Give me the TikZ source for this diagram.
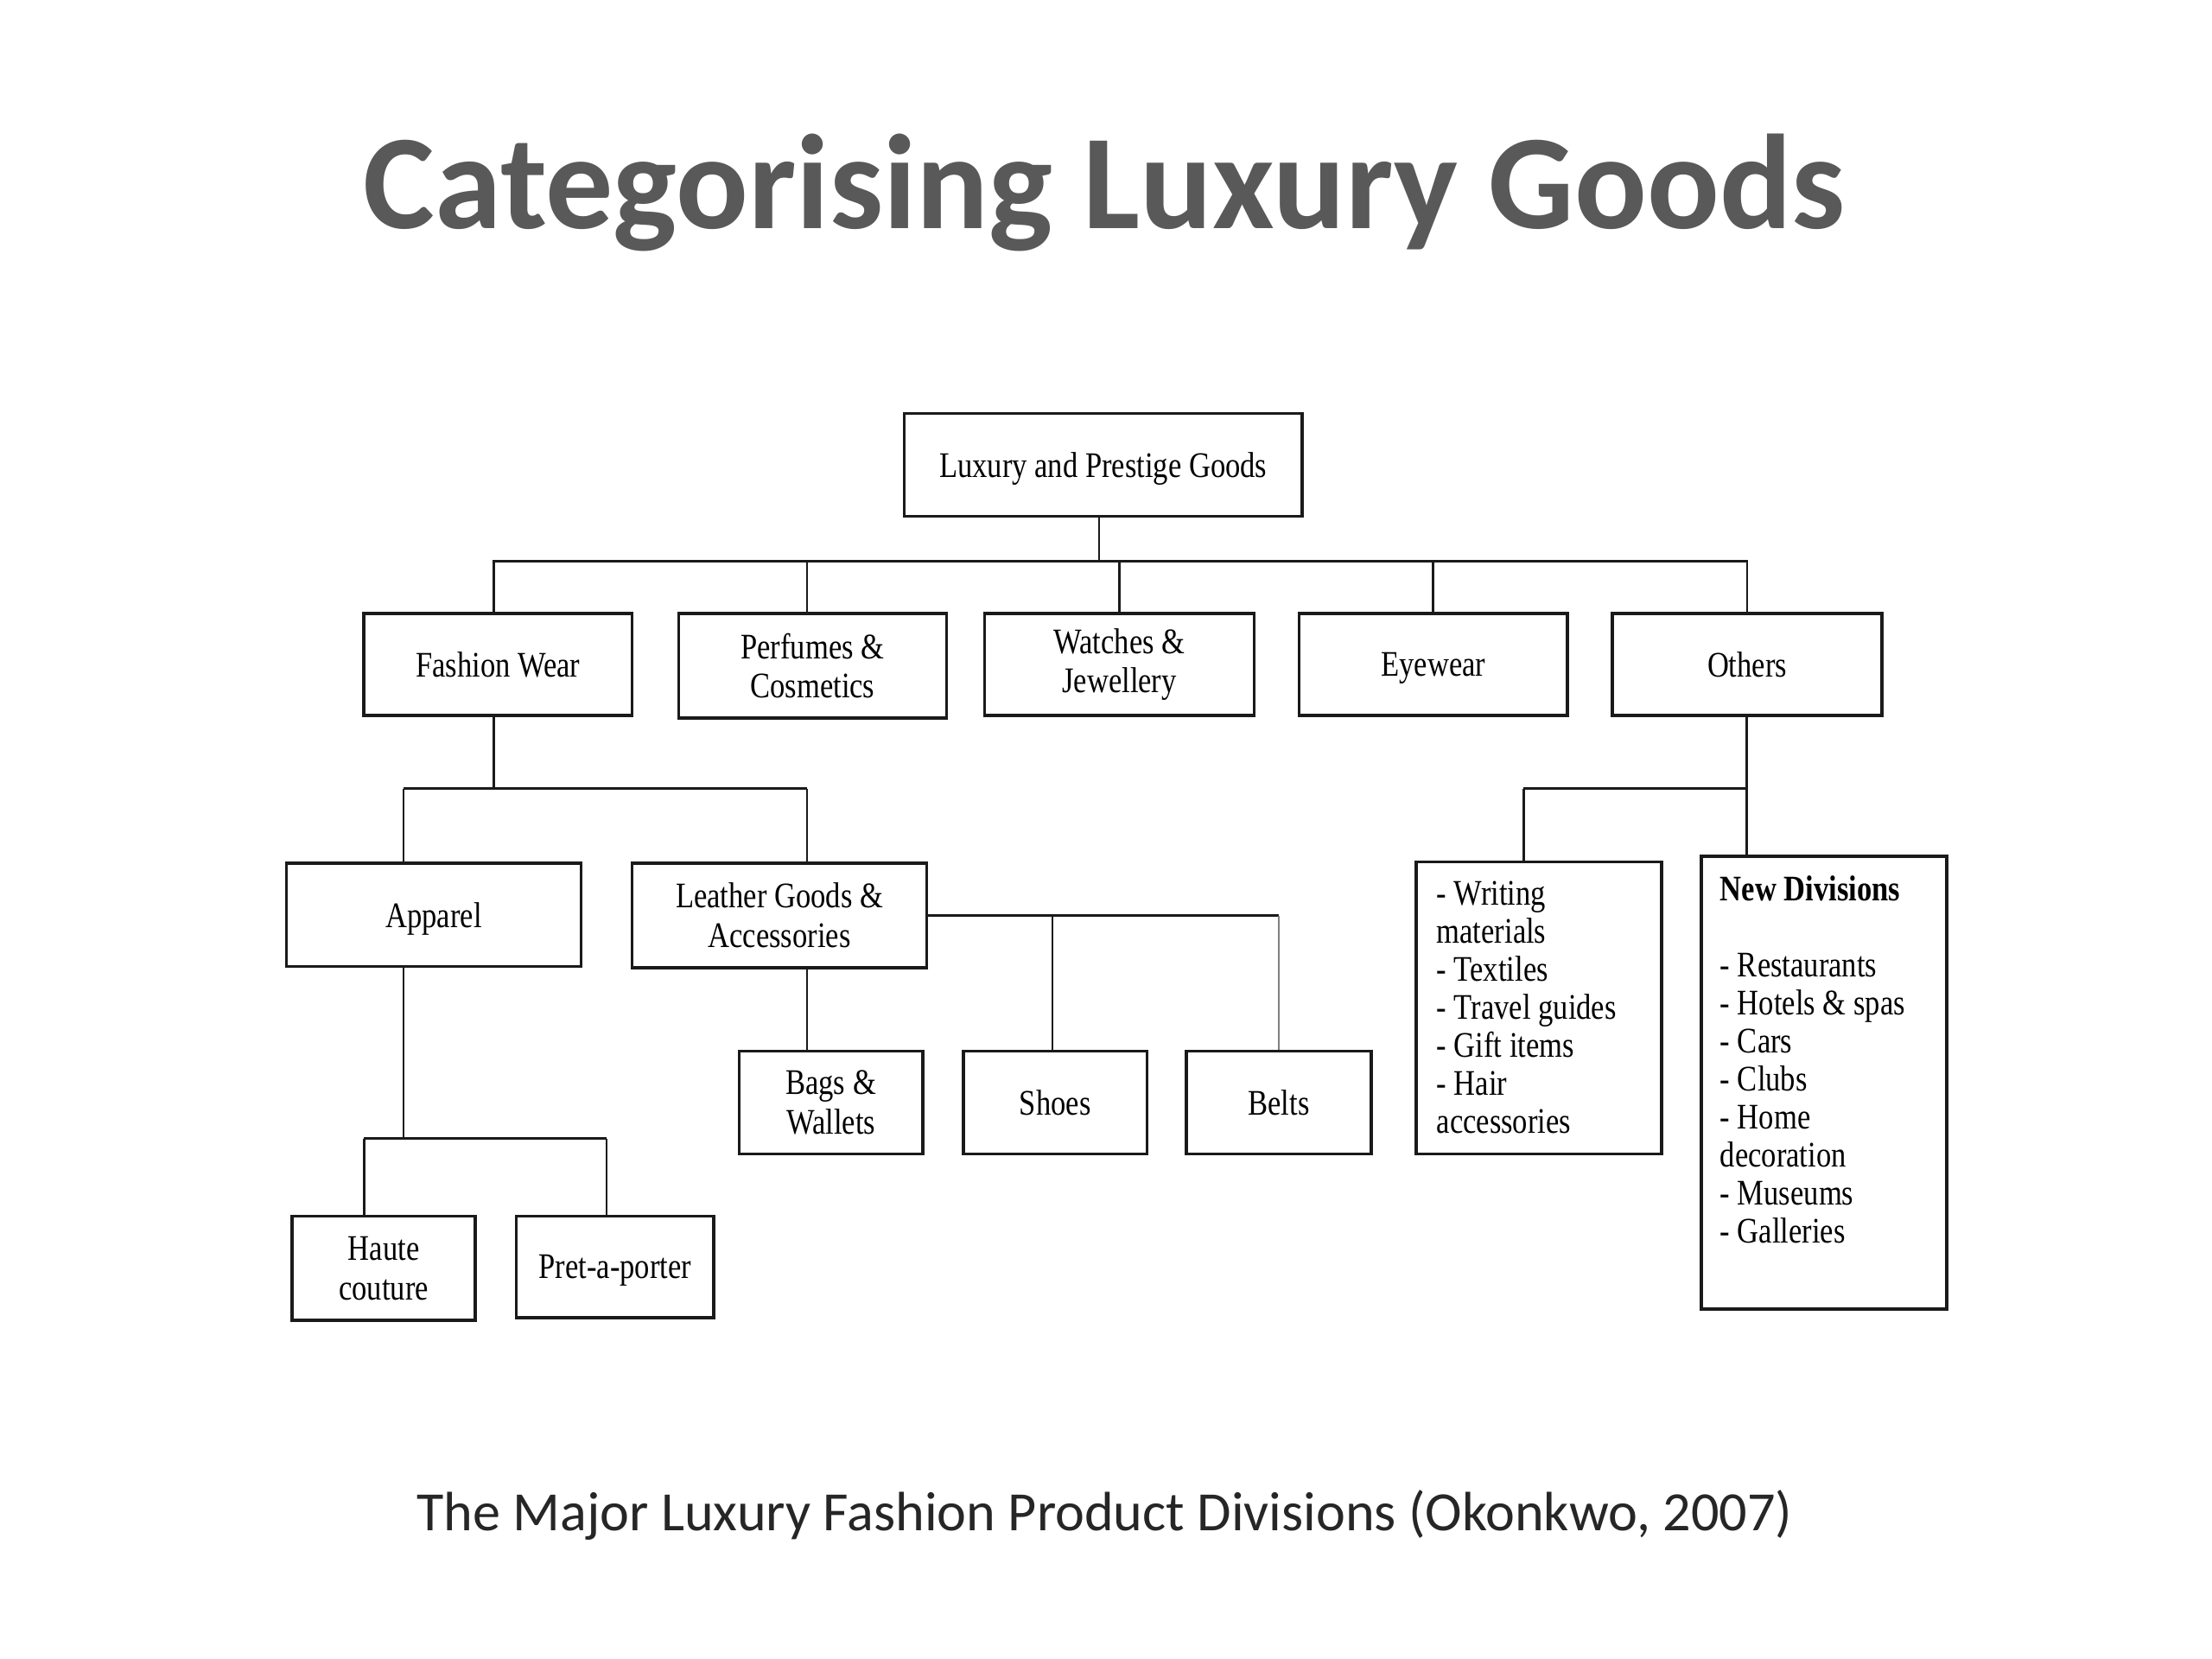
\documentclass[tikz,border=0pt]{standalone}
\usepackage{fontspec}
\newfontfamily\titlefont{Carlito}
\newfontfamily\diagfont[FakeStretch=0.83]{Liberation Serif}
\definecolor{titlegray}{HTML}{595959}
\definecolor{captiongray}{HTML}{262626}
\definecolor{linegray}{HTML}{1A1A1A}
\begin{document}
\begin{tikzpicture}[x=0.5pt,y=-0.5pt,
  box/.style={draw=linegray, line width=1.1pt, inner sep=0pt, align=center,
    font=\diagfont\fontsize{12.75}{14}\selectfont},
  oneline/.style={text depth=0pt},
  link/.style={draw=linegray, line width=0.8pt},
  listtext/.style={inner sep=0pt, anchor=north west, align=left,
    font=\diagfont\fontsize{12.75}{13.5}\selectfont}]
\fill[white] (0,0) rectangle (1568,1176);
\useasboundingbox (0,0) rectangle (1568,1176);

% title and caption
\node[font=\titlefont\bfseries\fontsize{47.8}{57}\selectfont, text=titlegray, anchor=base, inner sep=0pt] (title) at (783,162) {Categorising Luxury Goods};
\node[font=\titlefont\fontsize{19.65}{23}\selectfont, text=captiongray, anchor=base, inner sep=0pt] (caption) at (783,1085) {The Major Luxury Fashion Product Divisions (Okonkwo, 2007)};

% boxes
\node[box, oneline, minimum width=141pt, minimum height=36.5pt] (root) at (782,329.5) {Luxury and Prestige Goods};
\node[box, oneline, minimum width=95pt, minimum height=36pt] (fashion) at (353,471) {Fashion Wear};
\node[box, minimum width=95pt, minimum height=37pt] (perf) at (576,472) {Perfumes \&\\Cosmetics};
\node[box, minimum width=95.5pt, minimum height=36pt] (watch) at (793.5,471) {Watches \&\\Jewellery};
\node[box, oneline, minimum width=95pt, minimum height=36pt] (eye) at (1016,471) {Eyewear};
\node[box, oneline, minimum width=95.5pt, minimum height=36pt] (others) at (1238.5,471) {Others};

\node[box, oneline, minimum width=104.5pt, minimum height=36.5pt] (apparel) at (307.5,648.5) {Apparel};
\node[box, minimum width=104.5pt, minimum height=37pt] (leather) at (552.5,649) {Leather Goods \&\\Accessories};
\node[box, minimum width=65pt, minimum height=36.5pt] (bags) at (589,781.5) {Bags \&\\Wallets};
\node[box, oneline, minimum width=65pt, minimum height=36.5pt] (shoes) at (748,781.5) {Shoes};
\node[box, oneline, minimum width=65.5pt, minimum height=36.5pt] (belts) at (906.5,781.5) {Belts};
\node[box, minimum width=65pt, minimum height=37pt] (haute) at (272,899) {Haute\\couture};
\node[box, oneline, minimum width=70pt, minimum height=36pt] (pret) at (436,898) {Pret-a-porter};

\node[box, minimum width=87pt, minimum height=103.5pt] (writing) at (1091,714.5) {};
\node[box, minimum width=87pt, minimum height=160.5pt] (newdiv) at (1293,767.5) {};
\node[listtext] (writingtext) at (1018,622) {\strut- Writing\\materials\\- Textiles\\- Travel guides\\- Gift items\\- Hair\\accessories};
\node[listtext] (newdivtext) at (1219,619) {\strut\textbf{New Divisions}\\[13.5pt]- Restaurants\\- Hotels \& spas\\- Cars\\- Clubs\\- Home\\decoration\\- Museums\\- Galleries};

% junction coordinates
\coordinate (bus1) at (779,398);
\coordinate (j2) at (286,559);
\coordinate (j3) at (572,559);
\coordinate (j4) at (258,807);
\coordinate (j5) at (430,807);
\coordinate (j6) at (1080,559);
\coordinate (j7) at (1238,559);
\coordinate (jf) at (350,559);

% level 1
\draw[link] (root.south -| bus1) -- (bus1);
\draw[link] (fashion.north -| jf) -- (jf |- bus1) -- (others.north |- bus1) -- (others.north);
\draw[link] (perf.north -| j3) -- (j3 |- bus1);
\draw[link] (watch.north) -- (watch.north |- bus1);
\draw[link] (eye.north) -- (eye.north |- bus1);

% fashion wear branch
\draw[link] (fashion.south -| jf) -- (jf);
\draw[link] (j2) -- (j3);
\draw[link] (j2) -- (apparel.north -| j2);
\draw[link] (j3) -- (leather.north -| j3);

% leather branch
\draw[link] (leather.south -| j3) -- (bags.north -| j3);
\draw[link] (leather.east) -- (leather.east -| belts.north);
\draw[link, draw=gray] (leather.east -| belts.north) -- (belts.north);
\draw[link] (shoes.north -| 746,0) -- (leather.east -| 746,0);

% apparel branch
\draw[link] (apparel.south -| j2) -- (j2 |- j4);
\draw[link] (j4) -- (j5);
\draw[link] (j4) -- (haute.north -| j4);
\draw[link] (j5) -- (pret.north -| j5);

% others branch
\draw[link] (others.south -| j7) -- (newdiv.north -| j7);
\draw[link] (j6) -- (j7);
\draw[link] (j6) -- (writing.north -| j6);
\end{tikzpicture}
\end{document}
